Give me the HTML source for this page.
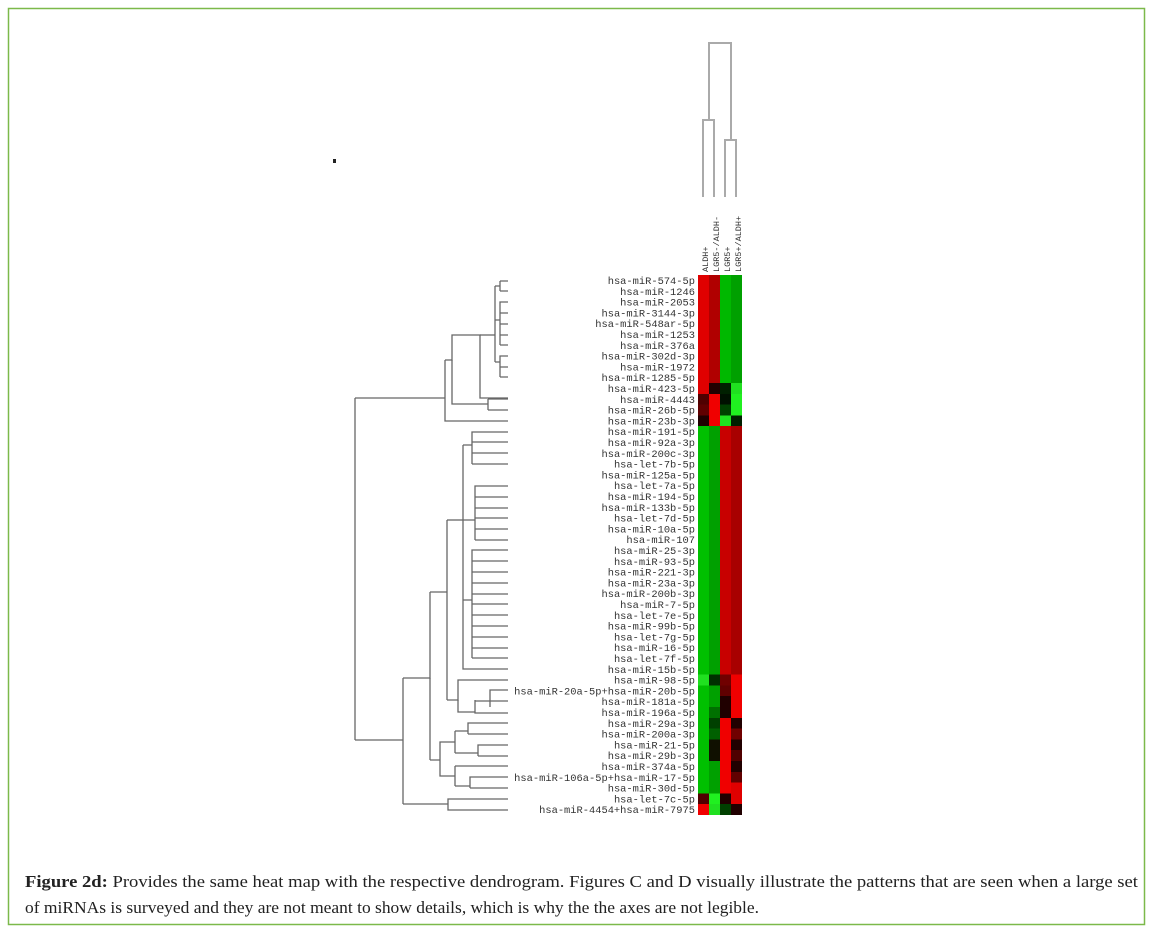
<!DOCTYPE html>
<html><head><meta charset="utf-8"><style>
html,body{margin:0;padding:0;background:#fff;width:1153px;height:933px;overflow:hidden}
svg{display:block}
</style></head><body>
<svg width="1153" height="933" viewBox="0 0 1153 933" xmlns="http://www.w3.org/2000/svg">
<rect x="8.5" y="8.5" width="1136" height="916" fill="#fff" stroke="#7cb94a" stroke-width="1.5"/>
<rect x="333" y="159" width="3" height="4" fill="#222"/>

<g stroke="#aaa" stroke-width="2" fill="none">
<path d="M703 197V120H714V197"/>
<path d="M725 197V140H736V197"/>
<path d="M709 120V43H731V140"/>
</g>
<g font-family="Liberation Mono, monospace" font-size="8.5" fill="#333">
<text transform="translate(708,272) rotate(-90)">ALDH+</text>
<text transform="translate(719,272) rotate(-90)">LGR5-/ALDH-</text>
<text transform="translate(730,272) rotate(-90)">LGR5+</text>
<text transform="translate(741,272) rotate(-90)">LGR5+/ALDH+</text>
</g>

<g shape-rendering="crispEdges">
<rect x="698" y="275" width="11" height="108" fill="#e00000"/>
<rect x="709" y="275" width="11" height="108" fill="#b00000"/>
<rect x="720" y="275" width="11" height="108" fill="#00b800"/>
<rect x="731" y="275" width="11" height="108" fill="#00a000"/>
<rect x="698" y="383" width="11" height="10.8" fill="#e00000"/>
<rect x="709" y="383" width="11" height="10.8" fill="#200000"/>
<rect x="720" y="383" width="11" height="10.8" fill="#002000"/>
<rect x="731" y="383" width="11" height="10.8" fill="#20e020"/>
<rect x="698" y="393.8" width="11" height="10.8" fill="#500000"/>
<rect x="709" y="393.8" width="11" height="10.8" fill="#f00000"/>
<rect x="720" y="393.8" width="11" height="10.8" fill="#001000"/>
<rect x="731" y="393.8" width="11" height="10.8" fill="#20f020"/>
<rect x="698" y="404.6" width="11" height="10.8" fill="#600000"/>
<rect x="709" y="404.6" width="11" height="10.8" fill="#f00000"/>
<rect x="720" y="404.6" width="11" height="10.8" fill="#004000"/>
<rect x="731" y="404.6" width="11" height="10.8" fill="#20f020"/>
<rect x="698" y="415.4" width="11" height="10.8" fill="#200000"/>
<rect x="709" y="415.4" width="11" height="10.8" fill="#f00000"/>
<rect x="720" y="415.4" width="11" height="10.8" fill="#20e020"/>
<rect x="731" y="415.4" width="11" height="10.8" fill="#002000"/>
<rect x="698" y="426.2" width="11" height="248.4" fill="#00c000"/>
<rect x="709" y="426.2" width="11" height="248.4" fill="#00a000"/>
<rect x="720" y="426.2" width="11" height="248.4" fill="#c80000"/>
<rect x="731" y="426.2" width="11" height="248.4" fill="#a80000"/>
<rect x="698" y="674.6" width="11" height="118.8" fill="#00c000"/>
<rect x="698" y="674.6" width="11" height="10.8" fill="#20e020"/>
<rect x="709" y="674.6" width="11" height="10.8" fill="#003000"/>
<rect x="720" y="674.6" width="11" height="10.8" fill="#700000"/>
<rect x="731" y="674.6" width="11" height="10.8" fill="#f00000"/>
<rect x="709" y="685.4" width="11" height="10.8" fill="#00a000"/>
<rect x="720" y="685.4" width="11" height="10.8" fill="#600000"/>
<rect x="731" y="685.4" width="11" height="10.8" fill="#f00000"/>
<rect x="709" y="696.2" width="11" height="10.8" fill="#00a000"/>
<rect x="720" y="696.2" width="11" height="10.8" fill="#200000"/>
<rect x="731" y="696.2" width="11" height="10.8" fill="#f00000"/>
<rect x="709" y="707" width="11" height="10.8" fill="#007000"/>
<rect x="720" y="707" width="11" height="10.8" fill="#200000"/>
<rect x="731" y="707" width="11" height="10.8" fill="#f00000"/>
<rect x="709" y="717.8" width="11" height="10.8" fill="#004000"/>
<rect x="720" y="717.8" width="11" height="10.8" fill="#f00000"/>
<rect x="731" y="717.8" width="11" height="10.8" fill="#200000"/>
<rect x="709" y="728.6" width="11" height="10.8" fill="#006000"/>
<rect x="720" y="728.6" width="11" height="10.8" fill="#f00000"/>
<rect x="731" y="728.6" width="11" height="10.8" fill="#700000"/>
<rect x="709" y="739.4" width="11" height="10.8" fill="#101000"/>
<rect x="720" y="739.4" width="11" height="10.8" fill="#f00000"/>
<rect x="731" y="739.4" width="11" height="10.8" fill="#200000"/>
<rect x="709" y="750.2" width="11" height="10.8" fill="#101000"/>
<rect x="720" y="750.2" width="11" height="10.8" fill="#f00000"/>
<rect x="731" y="750.2" width="11" height="10.8" fill="#500000"/>
<rect x="709" y="761" width="11" height="10.8" fill="#00a000"/>
<rect x="720" y="761" width="11" height="10.8" fill="#f00000"/>
<rect x="731" y="761" width="11" height="10.8" fill="#200000"/>
<rect x="709" y="771.8" width="11" height="10.8" fill="#00a000"/>
<rect x="720" y="771.8" width="11" height="10.8" fill="#f00000"/>
<rect x="731" y="771.8" width="11" height="10.8" fill="#600000"/>
<rect x="709" y="782.6" width="11" height="10.8" fill="#00a000"/>
<rect x="720" y="782.6" width="11" height="10.8" fill="#f00000"/>
<rect x="731" y="782.6" width="11" height="10.8" fill="#e00000"/>
<rect x="698" y="793.4" width="11" height="10.8" fill="#500000"/>
<rect x="709" y="793.4" width="11" height="10.8" fill="#20f020"/>
<rect x="720" y="793.4" width="11" height="10.8" fill="#200000"/>
<rect x="731" y="793.4" width="11" height="10.8" fill="#e00000"/>
<rect x="698" y="804.2" width="11" height="10.8" fill="#f00000"/>
<rect x="709" y="804.2" width="11" height="10.8" fill="#20e020"/>
<rect x="720" y="804.2" width="11" height="10.8" fill="#004000"/>
<rect x="731" y="804.2" width="11" height="10.8" fill="#200000"/>
</g>

<g font-family="Liberation Mono, monospace" font-size="10.4" fill="#333" text-anchor="end">
<text x="695" y="284">hsa-miR-574-5p</text>
<text x="695" y="294.8">hsa-miR-1246</text>
<text x="695" y="305.6">hsa-miR-2053</text>
<text x="695" y="316.4">hsa-miR-3144-3p</text>
<text x="695" y="327.2">hsa-miR-548ar-5p</text>
<text x="695" y="338">hsa-miR-1253</text>
<text x="695" y="348.8">hsa-miR-376a</text>
<text x="695" y="359.6">hsa-miR-302d-3p</text>
<text x="695" y="370.4">hsa-miR-1972</text>
<text x="695" y="381.2">hsa-miR-1285-5p</text>
<text x="695" y="392">hsa-miR-423-5p</text>
<text x="695" y="402.8">hsa-miR-4443</text>
<text x="695" y="413.6">hsa-miR-26b-5p</text>
<text x="695" y="424.4">hsa-miR-23b-3p</text>
<text x="695" y="435.2">hsa-miR-191-5p</text>
<text x="695" y="446">hsa-miR-92a-3p</text>
<text x="695" y="456.8">hsa-miR-200c-3p</text>
<text x="695" y="467.6">hsa-let-7b-5p</text>
<text x="695" y="478.4">hsa-miR-125a-5p</text>
<text x="695" y="489.2">hsa-let-7a-5p</text>
<text x="695" y="500">hsa-miR-194-5p</text>
<text x="695" y="510.8">hsa-miR-133b-5p</text>
<text x="695" y="521.6">hsa-let-7d-5p</text>
<text x="695" y="532.4">hsa-miR-10a-5p</text>
<text x="695" y="543.2">hsa-miR-107</text>
<text x="695" y="554">hsa-miR-25-3p</text>
<text x="695" y="564.8">hsa-miR-93-5p</text>
<text x="695" y="575.6">hsa-miR-221-3p</text>
<text x="695" y="586.4">hsa-miR-23a-3p</text>
<text x="695" y="597.2">hsa-miR-200b-3p</text>
<text x="695" y="608">hsa-miR-7-5p</text>
<text x="695" y="618.8">hsa-let-7e-5p</text>
<text x="695" y="629.6">hsa-miR-99b-5p</text>
<text x="695" y="640.4">hsa-let-7g-5p</text>
<text x="695" y="651.2">hsa-miR-16-5p</text>
<text x="695" y="662">hsa-let-7f-5p</text>
<text x="695" y="672.8">hsa-miR-15b-5p</text>
<text x="695" y="683.6">hsa-miR-98-5p</text>
<text x="695" y="694.4">hsa-miR-20a-5p+hsa-miR-20b-5p</text>
<text x="695" y="705.2">hsa-miR-181a-5p</text>
<text x="695" y="716">hsa-miR-196a-5p</text>
<text x="695" y="726.8">hsa-miR-29a-3p</text>
<text x="695" y="737.6">hsa-miR-200a-3p</text>
<text x="695" y="748.4">hsa-miR-21-5p</text>
<text x="695" y="759.2">hsa-miR-29b-3p</text>
<text x="695" y="770">hsa-miR-374a-5p</text>
<text x="695" y="780.8">hsa-miR-106a-5p+hsa-miR-17-5p</text>
<text x="695" y="791.6">hsa-miR-30d-5p</text>
<text x="695" y="802.4">hsa-let-7c-5p</text>
<text x="695" y="813.2">hsa-miR-4454+hsa-miR-7975</text>
</g>

<g stroke="#666" stroke-width="1.3" fill="none">
<path d="M355 398V740"/>
<path d="M355 398H445"/>
<path d="M355 740H403"/>
<path d="M445 360V421H508"/>
<path d="M445 360H452V335H480V398H508"/>
<path d="M452 360V404H488"/>
<path d="M488 399V410"/>
<path d="M488 399H508M488 410H508"/>
<path d="M480 335H495"/>
<path d="M495 286V362"/>
<path d="M495 286H500M500 281H508M500 291H508M500 281V291"/>
<path d="M495 320H500V302H508M500 313H508M500 324H508M500 335H508M500 345H508M500 345V302"/>
<path d="M495 362H500V356H508M500 367H508M500 377H508M500 377V356"/>
<path d="M403 678V804"/>
<path d="M403 804H448V799H508M448 804V810H508"/>
<path d="M403 678H430V592"/>
<path d="M430 678V760"/>
<path d="M430 592H447"/>
<path d="M447 520V700"/>
<path d="M447 520H463"/>
<path d="M463 445V669H508"/>
<path d="M463 445H472V432H508M472 442H508M472 453H508M472 464H508M472 432V464"/>
<path d="M463 520H475V486H508M475 497H508M475 508H508M475 518H508M475 529H508M475 540H508M475 486V540"/>
<path d="M463 600H472V550H508M472 561H508M472 572H508M472 583H508M472 594H508M472 604H508M472 615H508M472 626H508M472 637H508M472 648H508M472 658H508M472 550V658"/>
<path d="M447 700H458V680H508"/>
<path d="M458 700V712H475"/>
<path d="M475 700V713H508M475 701H490V690H508M490 701V707M490 701H508"/>
<path d="M430 760H440V742H455M440 760V776H455"/>
<path d="M455 731V753M455 731H468V723H508M468 734H508M468 723V734"/>
<path d="M455 753H478V745H508M478 756H508M478 745V756"/>
<path d="M455 766V786M455 766H508M455 786H470V777H508M470 788H508M470 777V788"/>
</g>

<g font-family="Liberation Serif, serif" font-size="16.5" fill="#222">
<text x="25" y="887" textLength="1113" lengthAdjust="spacingAndGlyphs"><tspan font-weight="bold">Figure 2d:</tspan> Provides the same heat map with the respective dendrogram. Figures C and D visually illustrate the patterns that are seen when a large set</text>
<text x="25" y="913" textLength="734" lengthAdjust="spacingAndGlyphs">of miRNAs is surveyed and they are not meant to show details, which is why the the axes are not legible.</text>
</g>
</svg>
</body></html>
